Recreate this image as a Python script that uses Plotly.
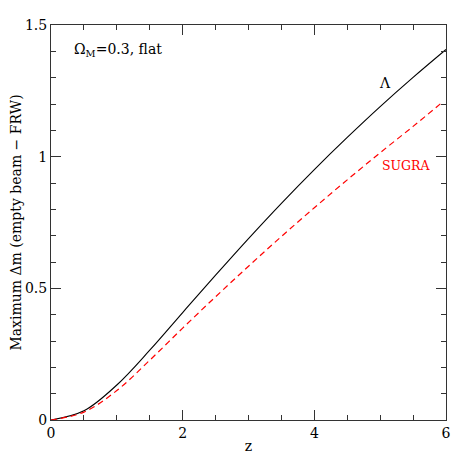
import plotly.graph_objects as go

z = [0, 0.5, 1.0, 1.5, 2.0, 2.5, 3.0, 3.5, 4.0, 4.5, 5.0, 5.5, 6.0]
dm_lambda = [0, 0.035, 0.133, 0.265, 0.408, 0.550, 0.689, 0.823, 0.951, 1.073, 1.190, 1.301, 1.407]
z_sugra = [0, 0.5, 1.0, 1.5, 2.0, 2.5, 3.0, 3.5, 4.0, 4.5, 5.0, 5.5, 5.96]
dm_sugra = [0, 0.03, 0.112, 0.227, 0.349, 0.468, 0.584, 0.697, 0.806, 0.912, 1.015, 1.115, 1.21]

FONT = "DejaVu Serif"
AX = "#333"

fig = go.Figure()
fig.add_trace(go.Scatter(x=z, y=dm_lambda, mode="lines",
                         line=dict(color="black", width=1.1, shape="spline", smoothing=1),
                         showlegend=False))
fig.add_trace(go.Scatter(x=z_sugra, y=dm_sugra, mode="lines",
                         line=dict(color="red", width=1.2, dash="6px,4px", shape="spline", smoothing=1),
                         showlegend=False))

axis_common = dict(showline=True, linecolor=AX, linewidth=1, mirror="allticks", ticks="inside",
                   showgrid=False, zeroline=False, tickcolor=AX, tickwidth=1, automargin=False,
                   tickfont=dict(family=FONT, size=14, color="black"))

fig.update_xaxes(range=[0, 6], dtick=2, ticklen=10,
                 minor=dict(dtick=0.5, ticklen=5, ticks="inside", tickcolor=AX, showgrid=False),
                 title=dict(text="z", font=dict(family=FONT, size=14, color="black"), standoff=1),
                 **axis_common)
fig.update_yaxes(range=[0, 1.5], dtick=0.5, ticklen=10,
                 minor=dict(dtick=0.1, ticklen=5, ticks="inside", tickcolor=AX, showgrid=False),
                 title=dict(text="Maximum Δm (empty beam − FRW)", font=dict(family=FONT, size=14, color="black"),
                            standoff=3),
                 **axis_common)

fig.add_annotation(x=0.053, y=0.937, xref="paper", yref="paper", xanchor="left", yanchor="middle",
                   text="Ω<sub>M</sub>=0.3, flat", showarrow=False,
                   font=dict(family=FONT, size=14, color="black"))
fig.add_annotation(x=5.07, y=1.279, xref="x", yref="y", xanchor="center", yanchor="middle",
                   text="Λ", showarrow=False, font=dict(family=FONT, size=14, color="black"))
fig.add_annotation(x=5.39, y=0.968, xref="x", yref="y", xanchor="center", yanchor="middle",
                   text="SUGRA", showarrow=False, font=dict(family=FONT, size=12.5, color="red"))

# page body has an 8px default margin; margins below place the plot area at 51..446 x 25..420 on the page
fig.update_layout(width=471, height=471, margin=dict(l=43, r=33, t=17, b=59),
                  plot_bgcolor="white", paper_bgcolor="white")

fig.write_html("out.html")
